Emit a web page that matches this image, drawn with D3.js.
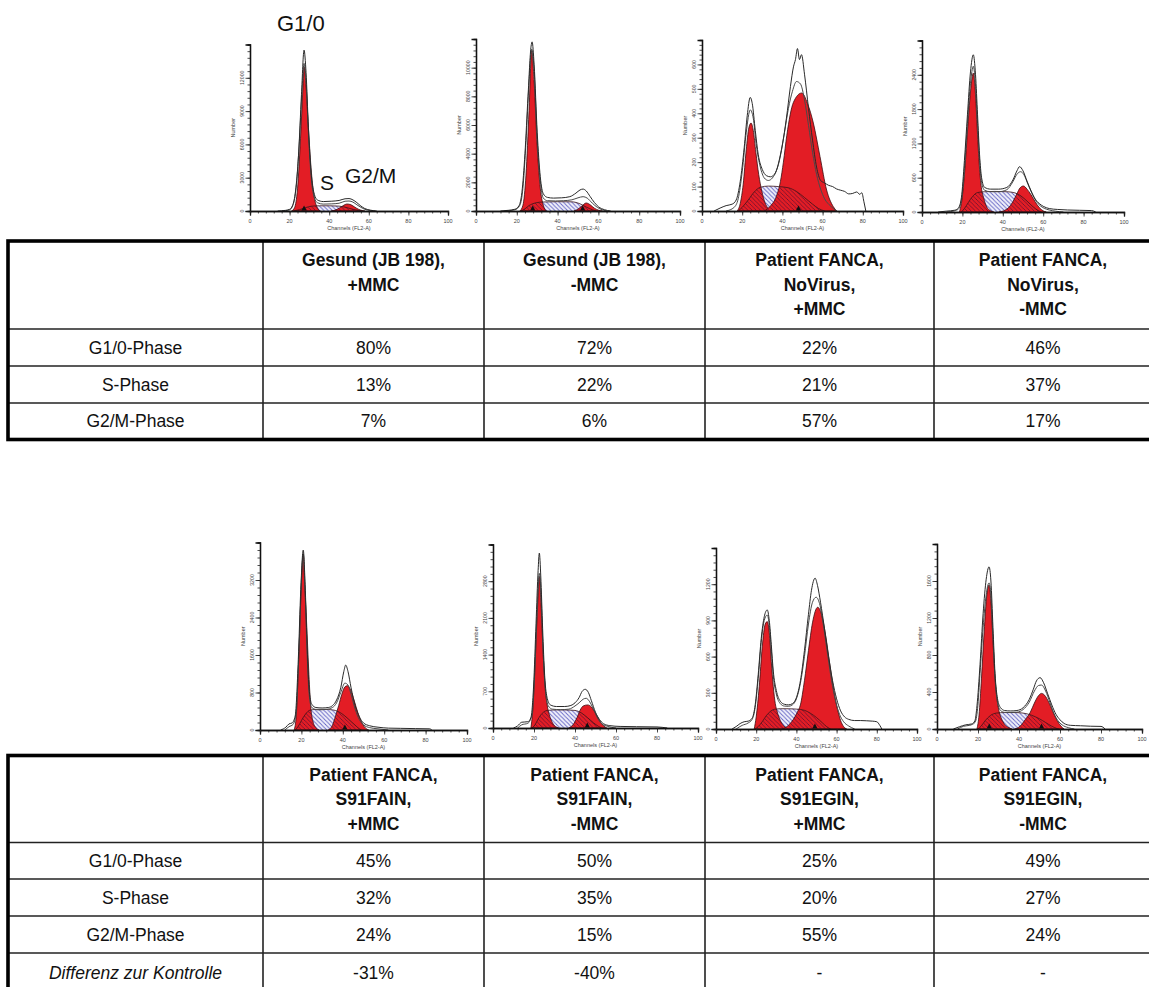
<!DOCTYPE html>
<html>
<head>
<meta charset="utf-8">
<script src="https://cdn.jsdelivr.net/npm/d3@7"></script>
<style>
  html, body { margin: 0; padding: 0; background: #fff; }
  svg { display: block; }
</style>
</head>
<body>
<svg id="fig" width="1149" height="987"></svg>
<script>
// ---------- Histogram data: [channel, count] pairs, one list per panel ----------
// Panel order: top row (JB198 +MMC, JB198 -MMC, FANCA NoVirus +MMC, FANCA NoVirus -MMC),
// bottom row (S91FAIN +MMC, S91FAIN -MMC, S91EGIN +MMC, S91EGIN -MMC)

const yMaxValues = [15000, 12000, 700, 3000, 4000, 3500, 1500, 2000];
const yStepValues = [3000, 2000, 100, 600, 800, 700, 300, 400];
const xTickValues = [0, 20, 40, 60, 80, 100];

// measured histogram (outer trace)
const traceOuter = [
  [[14,0],[18,60],[20,150],[21.5,500],[23,1800],[24.5,5000],[26,10500],[27.3,14500],[28.3,12500],[29.5,7500],[31,3200],[32.5,1500],[34,1000],[37,850],[41,880],[45,950],[48,1100],[50,1120],[52,1000],[54,750],[56,450],[58,220],[61,70],[64,0]],
  [[12,0],[16,50],[19,120],[21,350],[22.5,1300],[24,4000],[25.5,8000],[27,11500],[27.5,11800],[28.5,10200],[30,5500],[31.5,2400],[33,1200],[35,950],[38,900],[42,920],[46,1000],[49,1250],[51,1470],[52.5,1530],[54,1400],[56,1000],[58,600],[60,300],[63,90],[66,0]],
  [[6,0],[9,12],[12,22],[15,28],[17,45],[19,120],[21,260],[22.5,390],[24,465],[25,440],[26.5,330],[28,230],[30,170],[32,145],[34,140],[36,150],[38,190],[40,270],[42,380],[44,510],[45.5,590],[46.5,620],[47.5,665],[48.5,620],[49.5,640],[51,560],[53,420],[55,290],[57,180],[59,125],[61,115],[63,105],[65,100],[67,90],[69,85],[71,80],[73,70],[75,72],[77,78],[78.5,68],[79.5,75],[80.5,40],[81.5,0]],
  [[8,0],[12,15],[16,30],[18,70],[19.5,250],[21,900],[22.5,1700],[24,2450],[25.4,2750],[26.5,2400],[27.5,1700],[28.5,1000],[29.5,600],[31,430],[34,400],[38,400],[42,430],[45,560],[47,720],[48.3,793],[50,720],[52,540],[54,370],[56,230],[58,150],[60,100],[63,60],[67,45],[72,35],[78,30],[84,25],[86,0]],
  [[10,0],[12.5,60],[14,130],[15.5,150],[17,300],[18.5,1500],[19.7,3000],[20.9,3840],[21.8,3100],[22.7,1900],[23.7,900],[25,550],[27,480],[30,470],[33,480],[35,520],[37,640],[39,900],[40.5,1250],[41.4,1385],[42.5,1250],[44,900],[46,520],[48,280],[50,150],[53,90],[57,60],[62,40],[68,35],[75,30],[82,25],[83,0]],
  [[10,0],[12,40],[14,110],[17,120],[18.5,200],[19.8,800],[21,2000],[22,3000],[22.6,3337],[23.3,2900],[24.2,1900],[25.2,1000],[26.5,560],[28,440],[31,410],[35,410],[38,430],[40,480],[42,580],[43.5,700],[45,738],[46.5,680],[48,520],[50,300],[52,160],[54,80],[57,45],[62,30],[70,25],[80,20],[85,0]],
  [[8,0],[10,20],[12,45],[14,60],[16,65],[18,90],[19.5,200],[21,450],[22.5,750],[24,930],[25.5,987],[26.5,900],[27.5,700],[28.5,480],[30,320],[32,230],[34,205],[36,200],[38,210],[40,260],[42,400],[44,650],[46,950],[47.5,1150],[49.3,1250],[50.5,1190],[52,1050],[54,830],[56,600],[58,400],[60,250],[62,150],[64,100],[66,80],[69,70],[72,70],[75,68],[78,65],[80,60],[81.5,30],[82.5,0]],
  [[8,0],[11,25],[14,45],[17,55],[18.5,90],[19.5,250],[21,700],[22.5,1250],[24,1620],[25.4,1753],[26.3,1600],[27.3,1100],[28.3,600],[29.5,330],[31,230],[33,200],[36,195],[39,200],[42,230],[45,320],[47,430],[48.5,520],[50.3,555],[52,500],[54,380],[56,260],[58,160],[60,100],[62,60],[65,40],[70,35],[75,30],[80,28],[82,0]]
];

// second overlaid trace
const traceInner = [
  [[16,0],[20,100],[22,700],[23.5,2500],[25,6500],[26.5,11500],[27.3,13300],[28.3,11800],[29.5,7000],[31,2800],[32.5,1200],[34,750],[37,620],[41,640],[45,700],[48,880],[50,900],[52,800],[54,560],[56,330],[58,150],[61,40],[63,0]],
  [[14,0],[19,80],[21.5,400],[23,1600],[24.5,4800],[26,9000],[27.3,11300],[28.5,9800],[30,5000],[31.5,2100],[33,900],[35,720],[39,700],[43,720],[47,780],[50,920],[52.5,1000],[54.5,900],[57,550],[59.5,250],[62,80],[64,0]],
  [[12,0],[16,15],[18,50],[20,160],[22,320],[24,414],[25.5,380],[27,270],[29,180],[31,135],[33,125],[35,135],[37,165],[39,230],[41,320],[43,420],[45,490],[47,530],[49,520],[51,455],[53,350],[55,240],[57,150],[59,90],[61,50],[64,20],[67,0]],
  [[12,0],[16,20],[18,50],[19.5,200],[21,760],[22.5,1550],[24,2250],[25.4,2550],[26.5,2200],[27.5,1550],[28.5,900],[29.5,520],[31,380],[34,355],[38,355],[42,390],[45,530],[47,660],[48.8,705],[50.5,650],[52.5,480],[54.5,320],[56.5,190],[58.5,110],[60.5,65],[63,35],[66,15],[70,0]],
  [[12,0],[14,70],[16,120],[17.5,400],[19,1900],[20.2,3400],[20.9,3760],[21.8,2950],[22.7,1700],[23.7,780],[25,480],[28,430],[32,440],[35,480],[37,580],[39,800],[41,1000],[42.5,960],[44,760],[46,440],[48,220],[50,110],[53,50],[57,25],[62,0]],
  [[12,0],[14,60],[17,90],[19,250],[20.3,1000],[21.5,2200],[22.6,2950],[23.5,2500],[24.4,1500],[25.5,750],[27,420],[29,360],[33,350],[37,360],[40,420],[42,480],[44,550],[45.5,567],[47,510],[49,360],[51,190],[53,80],[56,30],[60,0]],
  [[10,0],[13,30],[16,50],[18,80],[19.5,180],[21,420],[22.5,720],[24,900],[25.5,945],[26.5,860],[27.5,660],[28.5,440],[30,290],[32,210],[34,190],[36,188],[38,200],[40,250],[42,380],[44,600],[46,870],[48,1050],[49.8,1092],[51.5,1040],[53.5,850],[55.5,620],[57.5,400],[59.5,230],[61.5,120],[63.5,60],[66,25],[69,0]],
  [[10,0],[13,30],[16,40],[18.5,70],[19.8,220],[21,600],[22.5,1100],[24,1450],[25.4,1580],[26.3,1450],[27.3,1000],[28.3,550],[29.5,290],[31,200],[33,180],[36,178],[39,182],[42,210],[45,290],[47.5,410],[49.5,470],[51,475],[53,410],[55,290],[57,170],[59,90],[61,45],[64,15],[67,0]]
];

// G1/0 component
const compG1 = [
  [[21,0],[22.5,300],[24,2000],[25.5,6500],[26.7,11000],[27.3,13000],[28.2,11500],[29.5,7500],[31,3500],[32.5,1200],[34,300],[35.5,0]],
  [[21.5,0],[23,400],[24.5,2500],[26,7000],[27.3,11200],[28.5,9000],[30,4500],[31.5,1600],[33,400],[34.5,0]],
  [[17.5,0],[19,30],[20.5,110],[22,250],[23.3,340],[24.4,360],[25.5,330],[26.8,240],[28.2,150],[29.8,80],[31.3,35],[33,10],[35,0]],
  [[18.5,0],[19.5,150],[21,650],[22.5,1400],[24,2100],[25.4,2430],[26.5,2050],[27.5,1350],[28.5,750],[29.5,400],[30.5,250],[32,90],[34,20],[35.5,0]],
  [[16.5,0],[17.5,300],[18.7,1500],[19.8,2900],[20.9,3760],[21.5,3200],[22.5,2300],[23.5,1300],[24.5,500],[25.5,200],[27,50],[28.5,0]],
  [[18.5,0],[19.5,400],[20.5,1200],[21.6,2200],[22.6,2890],[23.5,2300],[24.5,1400],[25.5,750],[26.5,420],[27.5,250],[29,100],[30.5,30],[32,0]],
  [[19,0],[20,100],[21.5,350],[23,680],[24.5,870],[25.5,890],[26.5,800],[27.5,560],[28.5,350],[29.5,210],[30.5,140],[32,70],[33.5,30],[35,10],[36.5,0]],
  [[19.5,0],[20.5,150],[21.7,550],[23,1050],[24.3,1450],[25.4,1556],[26.3,1380],[27.3,950],[28.3,560],[29.3,320],[30.3,190],[31.5,110],[33,50],[35,15],[36.5,0]]
];

// G2/M component
const compG2 = [
  [[41,0],[43,80],[45,250],[47,480],[49,630],[51,560],[53,340],[55,140],[57,30],[58,0]],
  [[48,0],[50,130],[52,360],[54,560],[56,430],[58,200],[60,60],[62,0]],
  [[31,0],[34,20],[37,60],[39,120],[40.5,200],[42.2,310],[45.5,445],[49.6,483],[52.5,440],[55.4,360],[58.7,223],[62,86],[65.3,18],[67,0]],
  [[38,0],[41,30],[43,80],[45,180],[47,320],[48.5,420],[50.2,455],[52,400],[54,300],[56,180],[58,80],[60,20],[61.5,0]],
  [[33,0],[35,100],[36.5,300],[38,520],[39.5,760],[41,920],[42.2,945],[43.5,880],[45,700],[46.5,480],[48,280],[49.5,130],[51,40],[52.5,0]],
  [[37,0],[39,60],[41,200],[42.5,340],[44,420],[46.2,440],[48,400],[50,280],[52,140],[54,40],[55.5,0]],
  [[33,0],[36,30],[38.5,80],[40.5,140],[42,200],[44,400],[46,650],[48,880],[50.6,1009],[52.5,950],[54.5,780],[56.5,550],[58.5,330],[60.5,160],[62,70],[63.5,20],[65,0]],
  [[38,0],[40.5,30],[43,100],[45.5,180],[47.5,280],[49.5,360],[51,385],[52.5,365],[54.5,290],[56.5,190],[58.5,95],[60.5,30],[62,0]]
];

// S-phase component
const compS = [
  [[22,0],[25,120],[28,300],[31,430],[35,470],[40,470],[45,440],[49,300],[52,150],[55,40],[57,0]],
  [[22,0],[24,150],[26,380],[29,560],[33,630],[40,650],[47,640],[51,500],[54,280],[57,90],[59,0]],
  [[18,0],[20,15],[23,45],[26,78],[29,97],[33,102],[38,100],[43,95],[47,80],[51,55],[55,28],[58,10],[61,0]],
  [[19.5,0],[21,60],[23,170],[25,270],[27.5,340],[31,355],[36,360],[42,355],[46,335],[49,280],[52,190],[55,90],[57.5,25],[59,0]],
  [[17,0],[18.5,80],[20,200],[22,340],[24,420],[27,440],[31,440],[35,430],[38,390],[41,300],[44,180],[46.5,80],[48,25],[49,0]],
  [[19,0],[20.5,60],[22,170],[24,280],[26.5,335],[30,344],[35,344],[40,335],[43,290],[46,200],[49,100],[51.5,30],[53,0]],
  [[19.5,0],[21,20],[23,60],[25,110],[27,145],[29,163],[32,168],[36,168],[40,165],[44,155],[47,130],[50,95],[53,50],[55,20],[57,0]],
  [[20,0],[21.5,30],[23.5,90],[26,145],[29,172],[33,178],[38,178],[42,172],[46,150],[50,110],[53,70],[56,30],[58.5,5],[59.5,0]]
];

// peak markers (channel)
const peakMarks = [[27.3], [27.8, 52.3], [48], [], [41], [46], [49.2], [25.5, 51]];

// ---------- Table data ----------
const rowLabels = ["G1/0-Phase", "S-Phase", "G2/M-Phase"];
const diffLabel = "Differenz zur Kontrolle";
const headersTop = [
  ["Gesund (JB 198),", "+MMC"],
  ["Gesund (JB 198),", "-MMC"],
  ["Patient FANCA,", "NoVirus,", "+MMC"],
  ["Patient FANCA,", "NoVirus,", "-MMC"]
];
const headersBottom = [
  ["Patient FANCA,", "S91FAIN,", "+MMC"],
  ["Patient FANCA,", "S91FAIN,", "-MMC"],
  ["Patient FANCA,", "S91EGIN,", "+MMC"],
  ["Patient FANCA,", "S91EGIN,", "-MMC"]
];
const g1Top = [80, 72, 22, 46];
const sTop  = [13, 22, 21, 37];
const g2Top = [7, 6, 57, 17];
const g1Bottom = [45, 50, 25, 49];
const sBottom  = [32, 35, 20, 27];
const g2Bottom = [24, 15, 55, 24];
const diffBottom = [-31, -40, null, null];

// ---------- Layout ----------
const svg = d3.select("#fig");
const FONT = "'Liberation Sans', Arial, Helvetica, sans-serif";
const RED = "#e31d25";

const frames = [
  {x0: 250, x1: 448, base: 211, top: 44.5},
  {x0: 476, x1: 680, base: 211, top: 39},
  {x0: 702, x1: 903, base: 211, top: 40},
  {x0: 922, x1: 1124, base: 212, top: 40.5},
  {x0: 260, x1: 467, base: 730, top: 542.5},
  {x0: 493, x1: 698, base: 728, top: 544.5},
  {x0: 716, x1: 917, base: 729, top: 548},
  {x0: 937, x1: 1142, base: 729, top: 544}
];

const defs = svg.append("defs");
// blue diagonal hatch on pale background (S-phase outside the G1/G2 peaks)
const pb = defs.append("pattern").attr("id", "hatchBlue")
  .attr("patternUnits", "userSpaceOnUse").attr("width", 4.2).attr("height", 4.2);
pb.append("rect").attr("width", 4.2).attr("height", 4.2).attr("fill", "#f1f1fb");
pb.append("path").attr("d", "M-1,-1 L5.2,5.2 M-1,3.2 L1,5.2 M3.2,-1 L5.2,1")
  .attr("stroke", "#6363c4").attr("stroke-width", 0.9);
// dark hatch where the S-phase lies under the red peaks
const pr = defs.append("pattern").attr("id", "hatchRed")
  .attr("patternUnits", "userSpaceOnUse").attr("width", 4.2).attr("height", 4.2);
pr.append("path").attr("d", "M-1,-1 L5.2,5.2 M-1,3.2 L1,5.2 M3.2,-1 L5.2,1")
  .attr("stroke", "#6a1030").attr("stroke-width", 0.8);

frames.forEach((f, i) => {
  const x = d3.scaleLinear().domain([0, 100]).range([f.x0, f.x1]);
  const y = d3.scaleLinear().domain([0, yMaxValues[i]]).range([f.base, f.top]);
  const g = svg.append("g").attr("class", "panel");

  const area = d3.area().x(d => x(d[0])).y0(y(0)).y1(d => y(d[1])).curve(d3.curveMonotoneX);
  const line = d3.line().x(d => x(d[0])).y(d => y(d[1])).curve(d3.curveMonotoneX);

  // S-phase area (blue hatch)
  g.append("path").attr("d", area(compS[i])).attr("fill", "url(#hatchBlue)");

  // G1 and G2 peaks
  [compG1[i], compG2[i]].forEach(c => {
    g.append("path").attr("d", area(c)).attr("fill", RED)
      .attr("stroke", "#3a0d10").attr("stroke-width", 0.8);
  });

  // S-phase hatch over the red peaks
  const clipId = "peaks" + i;
  const cp = defs.append("clipPath").attr("id", clipId);
  cp.append("path").attr("d", area(compG1[i]));
  cp.append("path").attr("d", area(compG2[i]));
  g.append("path").attr("d", area(compS[i])).attr("fill", "url(#hatchRed)")
    .attr("clip-path", `url(#${clipId})`);
  g.append("path").attr("d", line(compS[i])).attr("fill", "none")
    .attr("stroke", "#3a1418").attr("stroke-width", 0.8);

  // measured traces
  g.append("path").attr("d", line(traceInner[i])).attr("fill", "none")
    .attr("stroke", "#4a4a4a").attr("stroke-width", 1.0);
  g.append("path").attr("d", line(traceOuter[i])).attr("fill", "none")
    .attr("stroke", "#2a2a2a").attr("stroke-width", 1.0);

  // axes
  const step = yStepValues[i];
  const yMajor = d3.range(0, yMaxValues[i] + 1e-6, step).filter(v => v < yMaxValues[i] - 1e-6);
  const yMinor = d3.range(0, yMaxValues[i] + 1e-6, step / 5);
  const xMinor = d3.range(0, 100.001, 4);

  const yAxisMinor = g.append("g").attr("transform", `translate(${f.x0},0)`)
    .call(d3.axisLeft(y).tickValues(yMinor).tickSize(2.5).tickFormat(""));
  const yAxisMajor = g.append("g").attr("transform", `translate(${f.x0},0)`)
    .call(d3.axisLeft(y).tickValues(yMajor).tickSize(4.5).tickFormat(""));
  const xAxisMinor = g.append("g").attr("transform", `translate(0,${f.base})`)
    .call(d3.axisBottom(x).tickValues(xMinor).tickSize(2.5).tickFormat(""));
  const xAxisMajor = g.append("g").attr("transform", `translate(0,${f.base})`)
    .call(d3.axisBottom(x).tickValues(xTickValues).tickSize(4.5).tickFormat(""));
  [yAxisMinor, yAxisMajor, xAxisMinor, xAxisMajor].forEach(a => {
    a.select(".domain").attr("stroke", "#111").attr("stroke-width", 1.3);
    a.selectAll(".tick line").attr("stroke", "#222").attr("stroke-width", 0.8);
  });

  // tick labels
  g.selectAll(".ylab").data(yMajor).join("text")
    .attr("transform", v => `translate(${f.x0 - 8},${y(v)}) rotate(-90)`)
    .attr("text-anchor", "middle").attr("dy", "0.35em")
    .attr("font-family", FONT).attr("font-size", 5.2).attr("fill", "#444")
    .text(v => v);
  g.selectAll(".xlab").data(xTickValues).join("text")
    .attr("x", v => x(v)).attr("y", f.base + 12)
    .attr("text-anchor", "middle")
    .attr("font-family", FONT).attr("font-size", 5.5).attr("fill", "#444")
    .text(v => v);

  g.append("text")
    .attr("transform", `translate(${f.x0 - 17},${(f.base + f.top) / 2}) rotate(-90)`)
    .attr("text-anchor", "middle").attr("dy", "0.35em")
    .attr("font-family", FONT).attr("font-size", 5.5).attr("fill", "#444")
    .text("Number");
  g.append("text")
    .attr("x", (f.x0 + f.x1) / 2).attr("y", f.base + 19)
    .attr("text-anchor", "middle")
    .attr("font-family", FONT).attr("font-size", 5.5).attr("fill", "#444")
    .text("Channels (FL2-A)");

  // peak markers on the baseline
  g.selectAll(".mark").data(peakMarks[i]).join("path")
    .attr("d", c => `M${x(c) - 2.6},${f.base - 0.5} L${x(c) + 2.6},${f.base - 0.5} L${x(c)},${f.base - 5.5} Z`)
    .attr("fill", "#111");
});

// phase annotations on the first histogram
const annot = svg.append("g").attr("font-family", FONT).attr("fill", "#111");
annot.append("text").attr("x", 277).attr("y", 31).attr("font-size", 22).text("G1/0");
annot.append("text").attr("x", 320).attr("y", 190).attr("font-size", 21).text("S");
annot.append("text").attr("x", 345).attr("y", 183).attr("font-size", 21).text("G2/M");

// ---------- Tables ----------
const colEdges = [8, 263, 484, 705, 934, 1152];
const pct = v => (v === null ? "-" : v + "%");
const TFS = 17.5;

function drawTable(top, headerH, rowEdges, headers, rows, italicLast) {
  const t = svg.append("g").attr("font-family", FONT).attr("fill", "#111");
  const bottom = rowEdges[rowEdges.length - 1];
  // inner grid lines
  const hLines = [top + headerH].concat(rowEdges.slice(0, -1));
  t.selectAll(".hl").data(hLines).join("line")
    .attr("x1", colEdges[0]).attr("x2", colEdges[colEdges.length - 1])
    .attr("y1", d => d).attr("y2", d => d)
    .attr("stroke", "#222").attr("stroke-width", 1.6);
  t.selectAll(".vl").data(colEdges.slice(1, -1)).join("line")
    .attr("x1", d => d).attr("x2", d => d).attr("y1", top).attr("y2", bottom)
    .attr("stroke", "#222").attr("stroke-width", 1.6);
  // outer frame
  t.append("rect").attr("x", colEdges[0]).attr("y", top)
    .attr("width", colEdges[colEdges.length - 1] - colEdges[0]).attr("height", bottom - top)
    .attr("fill", "none").attr("stroke", "#000").attr("stroke-width", 3.6);

  // headers
  headers.forEach((lines, c) => {
    const cx = (colEdges[c + 1] + colEdges[c + 2]) / 2;
    lines.forEach((s, k) => {
      t.append("text").attr("x", cx).attr("y", top + 19 + k * 24.5)
        .attr("text-anchor", "middle").attr("dominant-baseline", "central")
        .attr("font-size", TFS).attr("font-weight", "bold").text(s);
    });
  });
  // body rows
  const starts = [top + headerH].concat(rowEdges.slice(0, -1));
  rows.forEach((r, k) => {
    const cy = (starts[k] + rowEdges[k]) / 2;
    const italic = italicLast && k === rows.length - 1;
    t.append("text").attr("x", (colEdges[0] + colEdges[1]) / 2).attr("y", cy)
      .attr("text-anchor", "middle").attr("dominant-baseline", "central")
      .attr("font-size", TFS).attr("font-style", italic ? "italic" : "normal")
      .text(r.label);
    r.values.forEach((v, c) => {
      t.append("text").attr("x", (colEdges[c + 1] + colEdges[c + 2]) / 2).attr("y", cy)
        .attr("text-anchor", "middle").attr("dominant-baseline", "central")
        .attr("font-size", TFS).text(pct(v));
    });
  });
}

drawTable(241, 88, [366, 403, 439.5], headersTop, [
  {label: rowLabels[0], values: g1Top},
  {label: rowLabels[1], values: sTop},
  {label: rowLabels[2], values: g2Top}
], false);

drawTable(755.5, 87, [879, 916, 953, 992], headersBottom, [
  {label: rowLabels[0], values: g1Bottom},
  {label: rowLabels[1], values: sBottom},
  {label: rowLabels[2], values: g2Bottom},
  {label: diffLabel, values: diffBottom}
], true);
</script>
</body>
</html>
